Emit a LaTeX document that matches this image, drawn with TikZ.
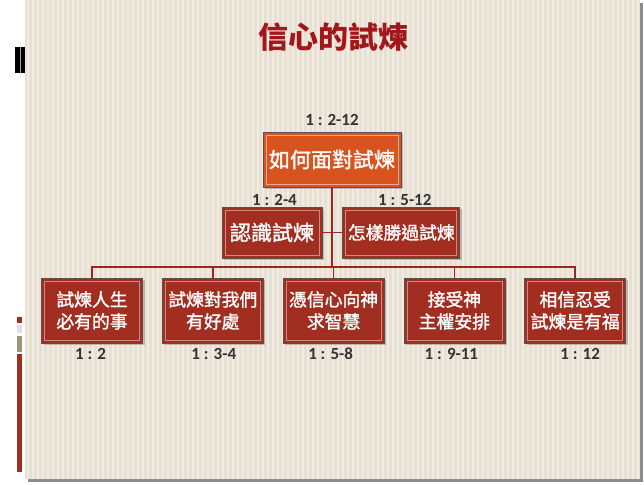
\documentclass[tikz,border=0pt]{standalone}
\usepackage{fontspec}
\setmainfont{Carlito}
\newfontfamily\cjk{Noto Sans CJK TC}
\newfontfamily\cjkm{Noto Sans CJK TC}[FakeBold=1.5]
\usetikzlibrary{positioning,shadows}
\definecolor{paper}{HTML}{E8E0D2}
\definecolor{stripe}{HTML}{F1ECE3}
\definecolor{brick}{HTML}{A12E20}
\definecolor{flame}{HTML}{D9531F}
\definecolor{rim}{HTML}{5C504A}
\definecolor{wire}{HTML}{962A20}
\definecolor{titlered}{HTML}{A3161A}
\definecolor{khaki}{HTML}{A39378}
\tikzset{
  box/.style={draw=rim, line width=0.8pt, fill=brick, text=white, align=center, inner sep=0pt,
    font=\cjkm\fontsize{17.8}{22}\selectfont, minimum width=101pt, minimum height=65pt,
    drop shadow={shadow xshift=2pt, shadow yshift=-2pt, opacity=0.45},
    path picture={\draw[#1, line width=0.8pt] ([shift={(3pt,3pt)}]path picture bounding box.south west) rectangle ([shift={(-3pt,-3pt)}]path picture bounding box.north east);}},
  box/.default={brick!55!white},
  midbox/.style={box, minimum height=51pt},
  verse/.style={font=\bfseries\fontsize{17}{19}\selectfont, text=black!80, inner sep=1pt, text height=11pt, text depth=0pt},
  wire/.style={draw=wire, line width=1.6pt}
}
\begin{document}
\begin{tikzpicture}[x=1pt, y=1pt]
\fill[white] (0,-484) rectangle (644,0);
\useasboundingbox (0,-484) rectangle (644,0);
\fill[black!45] (28,-482) rectangle (643,-3);
\fill[paper] (25,-479) rectangle (640,0);
\foreach \x in {28,33,...,638} \draw[stripe, line width=1.4pt] (\x,-479) -- (\x,0);
\fill[black] (15,-47) rectangle (25,-73);
\fill[black!40] (19.5,-47) rectangle (20.5,-73);
\fill[brick] (17,-317) rectangle (22,-323);
\fill[black!12] (17,-325) rectangle (22,-333);
\fill[khaki] (17,-336) rectangle (22,-352);
\fill[brick] (17,-354) rectangle (22,-472);

\node[font=\cjk\bfseries\fontsize{30}{30}\selectfont, text=titlered] (title) at (333,-37) {信心的試煉};

\node[box=flame!50!white, fill=flame, minimum width=138pt, minimum height=55pt, font=\cjkm\fontsize{21}{24}\selectfont] (top) at (332,-159.5) {如何面對試煉};
\node[midbox, minimum width=100pt, font=\cjkm\fontsize{21}{24}\selectfont] (know) at (272,-232.5) {認識試煉};
\node[midbox, minimum width=117pt, right=20pt of know] (win) {怎樣勝過試煉};

\node[box] (s1) at (92,-310.5) {試煉人生\\必有的事};
\node[box, right=19pt of s1] (s2) {試煉對我們\\有好處};
\node[box, right=19pt of s2] (s3) {憑信心向神\\求智慧};
\node[box, right=19pt of s3] (s4) {接受神\\主權安排};
\node[box, right=19pt of s4] (s5) {相信忍受\\試煉是有福};

\node[verse, above=4.5pt of top] (v0) {1 : 2-12};
\node[verse, above=-0.5pt of know, xshift=2.5pt] (v1) {1 : 2-4};
\node[verse, above=-0.5pt of win, xshift=3.5pt] (v2) {1 : 5-12};
\foreach \s/\d/\v in {s1/-1.5/1 : 2, s2/1/1 : 3-4, s3/-3/1 : 5-8, s4/-3/1 : 9-11, s5/5/1 : 12}
  \node[verse, below=3.5pt of \s, xshift=\d pt] (v\s) {\v};

\coordinate (bus) at (332,-267);
\draw[wire] (top) -- (top|-bus);
\draw[wire] (know.east) -- (win.west);
\draw[wire] (s1.north) -- (s1|-bus) -- (s5|-bus) -- (s5.north);
\foreach \s in {s2,s3,s4} \draw[wire] (\s.north) -- (\s|-bus);
\end{tikzpicture}
\end{document}
